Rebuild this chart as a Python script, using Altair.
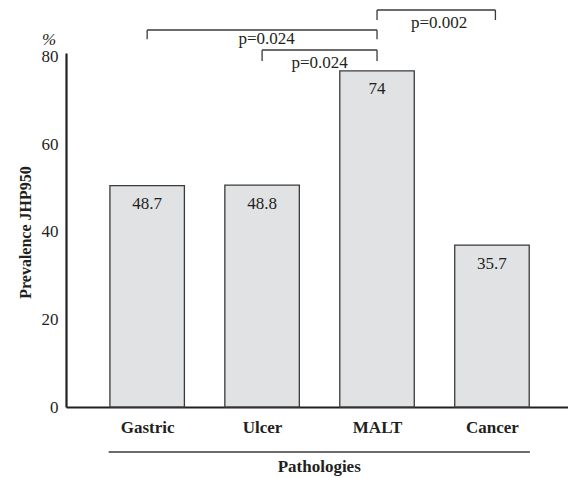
import altair as alt
import pandas as pd

# ---- data ----
categories = ["Gastric", "Ulcer", "MALT", "Cancer"]
bar_heights = [50.6, 50.7, 76.8, 37.0]          # drawn bar heights (axis units)
bar_labels = ["48.7", "48.8", "74", "35.7"]     # printed values inside bars
y_ticks = [0, 20, 40, 60, 80]

pair_start = [0.0, 1.0, 2.0]                     # bracket start (category index)
pair_end = [2.0, 2.0, 3.03]                      # bracket end (category index)
bracket_levels = [86.16, 81.59, 90.73]           # bracket height (axis units)
bracket_drop = [2.13, 2.5, 2.29]                 # tick length (axis units)
p_labels = ["p=0.024", "p=0.024", "p=0.002"]
p_label_x = [1.04, 1.5, 2.54]
p_label_y = [82.89, 77.54, 86.68]

x_title = "Pathologies"
y_title = "Prevalence JHP950"
unit_label = "%"

FONT = "'Liberation Serif', 'Times New Roman', Times, serif"
INK = "#231f20"
HALF = 0.324

bars = pd.DataFrame({
    "idx": list(range(len(categories))),
    "cat": categories,
    "height": bar_heights,
    "label": bar_labels,
})
bars["lo"] = bars["idx"] - HALF
bars["hi"] = bars["idx"] + HALF

br = pd.DataFrame({
    "x1": pair_start, "x2": pair_end,
    "lvl": bracket_levels,
    "bot": [l - d for l, d in zip(bracket_levels, bracket_drop)],
    "p": p_labels, "px": p_label_x, "py": p_label_y,
})

XS = alt.Scale(domain=[-0.6626, 3.618], nice=False, zero=False)
YS = alt.Scale(domain=[0, 80.9], nice=False, zero=False)

label_expr = "[" + ",".join(f"'{c}'" for c in categories) + "][datum.value]"

x_axis = alt.Axis(values=list(range(len(categories))), labelExpr=label_expr,
                  title=None, ticks=False, tickSize=0, grid=False,
                  domainColor=INK, domainWidth=2.2,
                  labelFont=FONT, labelFontSize=17, labelFontWeight="bold",
                  labelColor=INK, labelPadding=25, labelBaseline="alphabetic")
y_axis = alt.Axis(values=y_ticks, title=y_title, ticks=False, tickSize=0, grid=False,
                  domainColor=INK, domainWidth=2.2,
                  labelFont=FONT, labelFontSize=17, labelColor=INK, labelPadding=8,
                  titleFont=FONT, titleFontSize=16, titleFontWeight="bold", titleColor=INK,
                  titleX=-41, titleY=179, titleAngle=-90,
                  titleAlign="center", titleBaseline="middle")


def X(field):
    return alt.X(field, type="quantitative", scale=XS, axis=x_axis)


def Y(field):
    return alt.Y(field, type="quantitative", scale=YS, axis=y_axis)


base = alt.Chart(bars)

bar_layer = base.mark_bar(fill="#e1e2e4", stroke="#3a3a3a", strokeWidth=1.3,
                          orient="vertical", clip=False).encode(
    x=X("lo"), x2="hi:Q",
    y=Y("height"), y2=alt.datum(0),
)

val_text = base.mark_text(font=FONT, fontSize=17, color=INK, dy=23.5,
                          baseline="alphabetic", align="center").encode(
    x=X("idx"), y=Y("height"), text="label:N",
)

bc = alt.Chart(br)
RULE = dict(color="#3a3a3a", strokeWidth=1.3, clip=False)
br_h = bc.mark_rule(**RULE).encode(x=X("x1"), x2="x2:Q", y=Y("lvl"))
br_l = bc.mark_rule(**RULE).encode(x=X("x1"), y=Y("lvl"), y2="bot:Q")
br_r = bc.mark_rule(**RULE).encode(x=X("x2"), y=Y("lvl"), y2="bot:Q")
p_text = bc.mark_text(font=FONT, fontSize=17, color=INK, baseline="alphabetic",
                      align="center", clip=False).encode(
    x=X("px"), y=Y("py"), text="p:N",
)

extra = pd.DataFrame({"lo": [-0.335], "hi": [3.33], "mid": [1.497],
                      "t": [x_title], "u": [unit_label], "uy": [82.73]})
ec = alt.Chart(extra)
under_rule = ec.mark_rule(color="#3a3a3a", strokeWidth=1.3).encode(
    x=X("lo"), x2="hi:Q", y=alt.value(399),
)
xt = ec.mark_text(font=FONT, fontSize=17, fontWeight="bold", color=INK,
                  baseline="alphabetic", align="center").encode(
    x=X("mid"), y=alt.value(418.7), text="t:N",
)
unit = ec.mark_text(font=FONT, fontSize=17, fontStyle="italic", color=INK,
                    baseline="alphabetic", align="center").encode(
    x=alt.value(-16.8), y=Y("uy"), text="u:N",
)

chart = alt.layer(bar_layer, val_text, br_h, br_l, br_r, p_text,
                  under_rule, xt, unit).properties(
    width=502, height=354,
    background="white",
    autosize=alt.AutoSizeParams(type="none"),
    padding={"left": 58, "top": 45, "right": 0, "bottom": 71},
).configure_view(stroke=None)

chart.save("out.html", embed_options={"renderer": "svg", "actions": False})
